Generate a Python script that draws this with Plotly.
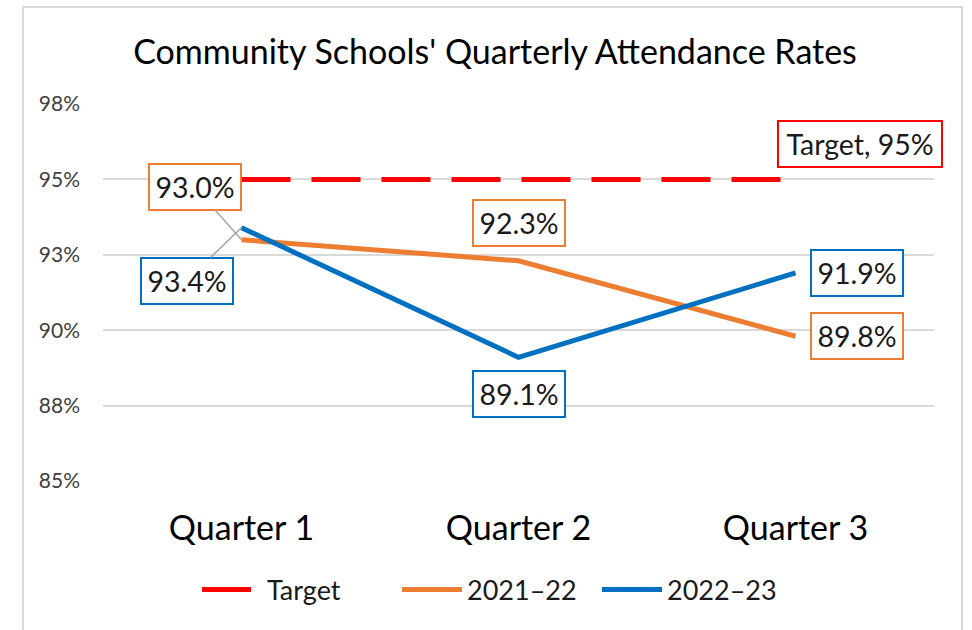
import plotly.graph_objects as go

quarters = ["Quarter 1", "Quarter 2", "Quarter 3"]
target = [95.0, 95.0, 95.0]
y2122 = [93.0, 92.3, 89.8]
y2223 = [93.4, 89.1, 91.9]
y_tickvals = [85, 87.5, 90, 92.5, 95, 97.5]
y_ticktext = ["85%", "88%", "90%", "93%", "95%", "98%"]

FONT = "Lato"
RED = "#FF0000"
ORANGE = "#ED7D31"
BLUE = "#0070C0"
GRID = "#D9D9D9"

fig = go.Figure()
fig.add_trace(go.Scatter(x=quarters, y=target, name="Target", mode="lines",
                         line=dict(color=RED, width=5, dash="49px,21px")))
fig.add_trace(go.Scatter(x=quarters, y=y2122, name="2021\u201322", mode="lines",
                         line=dict(color=ORANGE, width=5)))
fig.add_trace(go.Scatter(x=quarters, y=y2223, name="2022\u201323", mode="lines",
                         line=dict(color=BLUE, width=5)))

def label(x, y, text, color, ax, ay, arrow=False, w=88):
    fig.add_annotation(x=x, y=y, text=text, showarrow=True, arrowhead=0,
                       arrowwidth=1.5 if arrow else 0.1,
                       arrowcolor="#A6A6A6" if arrow else "rgba(0,0,0,0)",
                       ax=ax, ay=ay, axref="pixel", ayref="pixel",
                       width=w, height=42, align="center", valign="middle",
                       bgcolor="white", bordercolor=color, borderwidth=2,
                       borderpad=1, font=dict(family=FONT, size=28.5, color="#1a1a1a"))

label(quarters[0], y2122[0], f"{y2122[0]:.1f}%", ORANGE, -47, -53, True)
label(quarters[1], y2122[1], f"{y2122[1]:.1f}%", ORANGE, 0, -38)
label(quarters[2], y2122[2], f"{y2122[2]:.1f}%", ORANGE, 61, 0)
label(quarters[0], y2223[0], f"{y2223[0]:.1f}%", BLUE, -55, 53, True)
label(quarters[1], y2223[1], f"{y2223[1]:.1f}%", BLUE, 0, 37)
label(quarters[2], y2223[2], f"{y2223[2]:.1f}%", BLUE, 61, 0)
label(quarters[2], target[2], f"Target, {target[2]:.0f}%", RED, 64, -35, w=160)

# outer chart border
fig.add_shape(type="rect", xref="paper", yref="paper",
              x0=(23 - 103) / 831, x1=(962 - 103) / 831,
              y0=(481 - 650) / 377, y1=(481 - 7) / 377,
              line=dict(color=GRID, width=2), fillcolor="rgba(0,0,0,0)", layer="below")

fig.update_layout(
    width=972, height=630,
    margin=dict(l=103, r=38, t=104, b=149),
    paper_bgcolor="white", plot_bgcolor="white",
    title=dict(text="Community Schools' Quarterly Attendance Rates",
               x=(495 - 103) / 831, xref="paper", xanchor="center",
               y=1 - 52 / 630, yanchor="middle",
               font=dict(family=FONT, size=34, color="#000000")),
    showlegend=True,
    legend=dict(orientation="h", x=(497 - 103) / 831, xanchor="center",
                y=(481 - 590) / 377, yanchor="middle",
                font=dict(family=FONT, size=27, color="#1a1a1a"),
                itemwidth=60, entrywidth=125, entrywidthmode="pixels"),
    hovermode=False,
)
fig.update_xaxes(range=[-0.5, 2.5], showgrid=False, showline=False, zeroline=False,
                 ticks="", ticklabelstandoff=24,
                 tickfont=dict(family=FONT, size=34, color="#000000"))
fig.update_yaxes(range=[85, 97.5], tickvals=y_tickvals, ticktext=y_ticktext,
                 showgrid=True, gridcolor=GRID, gridwidth=1.5, zeroline=False,
                 showline=False, ticks="", ticklabelstandoff=22,
                 tickfont=dict(family=FONT, size=21, color="#404040"))

fig.write_html("out.html", config={"displayModeBar": False},
               post_script="document.body.style.margin='0';")
